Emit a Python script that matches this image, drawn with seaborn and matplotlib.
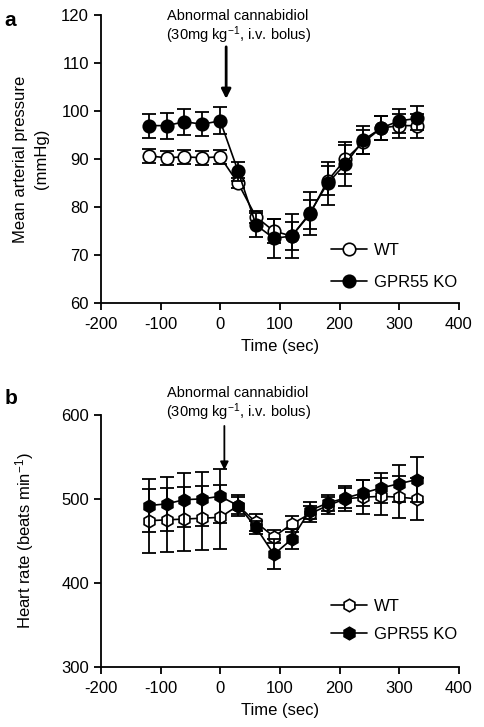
import matplotlib
matplotlib.use("Agg")
import matplotlib.pyplot as plt
import seaborn as sns
import numpy as np

# time points (sec)
time = [-120, -90, -60, -30, 0, 30, 60, 90, 120, 150, 180, 210, 240, 270, 300, 330]

# a: mean arterial pressure (mmHg)
map_wt = [90.7, 90.3, 90.5, 90.3, 90.5, 85.0, 78.0, 75.0, 74.0, 78.5, 85.5, 90.0, 93.5, 96.5, 97.0, 97.0]
map_wt_err = [1.5, 1.5, 1.5, 1.5, 1.5, 1.0, 1.2, 2.5, 3.0, 3.0, 3.0, 3.0, 2.5, 2.5, 2.5, 2.5]
map_ko = [97.0, 97.0, 97.8, 97.3, 98.0, 87.5, 76.3, 73.5, 74.0, 78.7, 85.0, 89.0, 94.0, 96.5, 98.0, 98.5]
map_ko_err = [2.5, 2.7, 2.7, 2.5, 2.8, 2.0, 2.5, 4.0, 4.5, 4.5, 4.5, 4.5, 3.0, 2.5, 2.5, 2.5]

# b: heart rate (beats/min)
hr_wt = [474, 475, 476, 477, 478, 492, 472, 455, 470, 482, 492, 500, 502, 503, 502, 500]
hr_wt_err = [38, 38, 38, 38, 38, 10, 10, 8, 10, 10, 10, 15, 20, 22, 25, 25]
hr_ko = [492, 494, 499, 500, 503, 492, 466, 434, 452, 486, 495, 501, 507, 513, 518, 523]
hr_ko_err = [32, 32, 32, 32, 32, 12, 8, 18, 12, 10, 10, 12, 15, 18, 22, 27]

sns.set_style("ticks")
plt.rcParams['font.family'] = ['Liberation Sans', 'DejaVu Sans']
plt.rcParams['mathtext.default'] = 'regular'
plt.rcParams['axes.unicode_minus'] = False
plt.rcParams['axes.linewidth'] = 1.3
plt.rcParams['axes.edgecolor'] = 'black'
plt.rcParams['axes.labelcolor'] = 'black'
plt.rcParams['text.color'] = 'black'
plt.rcParams['xtick.color'] = 'black'
plt.rcParams['ytick.color'] = 'black'
plt.rcParams['xtick.major.width'] = 1.3
plt.rcParams['ytick.major.width'] = 1.3
plt.rcParams['xtick.major.size'] = 5
plt.rcParams['ytick.major.size'] = 5

fig = plt.figure(figsize=(4.85, 7.27), dpi=100)
ax_a = fig.add_axes([0.208, 0.583, 0.738, 0.396])
ax_b = fig.add_axes([0.208, 0.0825, 0.738, 0.347])


def panel(ax, wt, wt_err, ko, ko_err, marker, ms):
    ax.errorbar(time, wt, yerr=wt_err, fmt='none', ecolor='black',
                elinewidth=1.3, capsize=5, capthick=1.3, zorder=2)
    sns.lineplot(x=time, y=wt, ax=ax, color='black', lw=1.2, marker=marker,
                 markersize=ms, markerfacecolor='white', markeredgecolor='black',
                 markeredgewidth=1.2, label='WT', zorder=3)
    ax.errorbar(time, ko, yerr=ko_err, fmt='none', ecolor='black',
                elinewidth=1.3, capsize=5, capthick=1.3, zorder=4)
    sns.lineplot(x=time, y=ko, ax=ax, color='black', lw=1.2, marker=marker,
                 markersize=ms, markerfacecolor='black', markeredgecolor='black',
                 markeredgewidth=1.2, label='GPR55 KO', zorder=5)
    ax.set_xlim(-200, 400)
    ax.set_xticks([-200, -100, 0, 100, 200, 300, 400])
    ax.set_xlabel('Time (sec)', fontsize=12, labelpad=5)
    ax.tick_params(labelsize=12)
    ax.tick_params(axis='x', pad=5)
    sns.despine(ax=ax)


panel(ax_a, map_wt, map_wt_err, map_ko, map_ko_err, 'o', 9)
ax_a.set_ylim(60, 120)
ax_a.set_yticks(range(60, 121, 10))
ax_a.set_ylabel('Mean arterial pressure\n(mmHg)', fontsize=12, labelpad=9,
                linespacing=1.5)
ax_a.legend(loc='lower left', bbox_to_anchor=(0.6, -0.005), frameon=False,
            fontsize=12, handlelength=2.2, handletextpad=0.4, labelspacing=1.0)
ax_a.text(30, 117.5, 'Abnormal cannabidiol\n(30mg kg$^{-1}$, i.v. bolus)',
          ha='center', va='center', fontsize=10.5, linespacing=1.1)
ax_a.annotate('', xy=(10, 102), xytext=(10, 114),
              arrowprops=dict(arrowstyle='-|>', color='black', lw=2,
                              mutation_scale=14))

panel(ax_b, hr_wt, hr_wt_err, hr_ko, hr_ko_err, 'h', 9)
ax_b.set_ylim(300, 600)
ax_b.set_yticks([300, 400, 500, 600])
ax_b.set_ylabel('Heart rate (beats min$^{-1}$)', fontsize=12, labelpad=18)
ax_b.legend(loc='lower left', bbox_to_anchor=(0.6, 0.04), frameon=False,
            fontsize=12, handlelength=2.2, handletextpad=0.4, labelspacing=0.8)
ax_b.text(30, 612, 'Abnormal cannabidiol\n(30mg kg$^{-1}$, i.v. bolus)',
          ha='center', va='center', fontsize=10.5, linespacing=1.1,
          clip_on=False)
ax_b.annotate('', xy=(7, 531), xytext=(7, 590),
              arrowprops=dict(arrowstyle='-|>', color='black', lw=1.3,
                              mutation_scale=12))

fig.text(0.01, 0.985, 'a', fontsize=15, fontweight='bold', va='top')
fig.text(0.01, 0.465, 'b', fontsize=15, fontweight='bold', va='top')

fig.savefig('out.png', dpi=100)
